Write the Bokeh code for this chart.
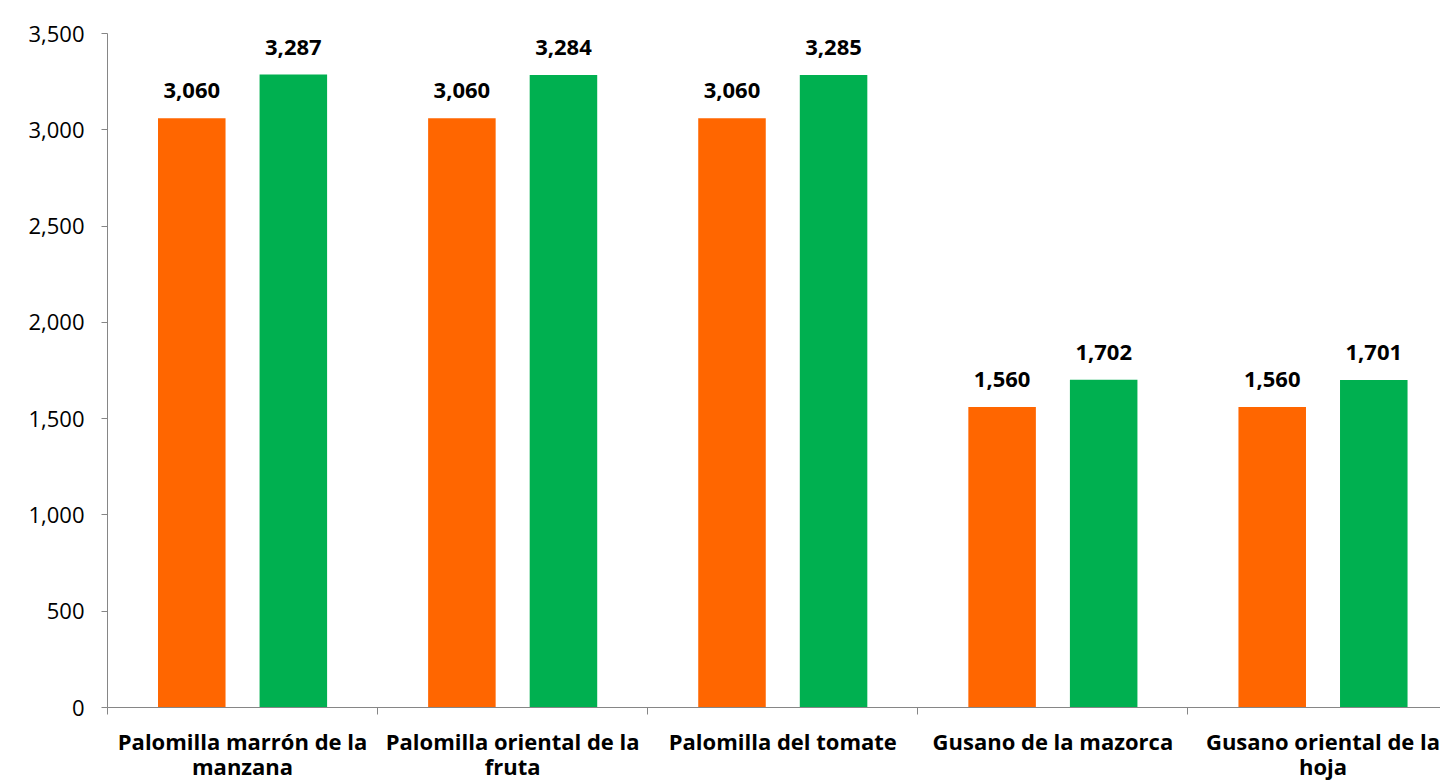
from bokeh.plotting import figure
from bokeh.models import Range1d, FixedTicker, NumeralTickFormatter, ColumnDataSource, LabelSet
from bokeh.core.properties import value
from bokeh.embed import file_html
from bokeh.resources import INLINE

categories = ["Palomilla marrón de la\nmanzana", "Palomilla oriental de la\nfruta",
              "Palomilla del tomate", "Gusano de la mazorca", "Gusano oriental de la\nhoja"]
serie_a = [3060, 3060, 3060, 1560, 1560]
serie_b = [3287, 3284, 3285, 1702, 1701]
y_ticks = [0, 500, 1000, 1500, 2000, 2500, 3000, 3500]

ORANGE = "#FF6600"
GREEN = "#00B050"
FONT = "Open Sans"
AXIS = "#868686"

n = len(categories)
centers = [i + 0.5 for i in range(n)]

p = figure(width=1440, height=783, output_backend="svg", toolbar_location=None,
           x_range=Range1d(0, 4.935), y_range=Range1d(0, 3500),
           min_border_left=107, min_border_right=0, min_border_top=33, min_border_bottom=75)
p.outline_line_color = None
p.xgrid.visible = False
p.ygrid.visible = False
p.background_fill_color = "white"

src_a = ColumnDataSource(dict(x=[c - 0.188 for c in centers], top=serie_a,
                              lab=[f"{v:,}" for v in serie_a]))
src_b = ColumnDataSource(dict(x=[c + 0.188 for c in centers], top=serie_b,
                              lab=[f"{v:,}" for v in serie_b]))
p.vbar(x="x", top="top", width=0.25, source=src_a, fill_color=ORANGE, line_color=None)
p.vbar(x="x", top="top", width=0.25, source=src_b, fill_color=GREEN, line_color=None)

for src in (src_a, src_b):
    p.add_layout(LabelSet(x="x", y="top", text="lab", source=src, text_align="center",
                          text_baseline="alphabetic", y_offset=20, text_font=value(FONT),
                          text_font_size="22px", text_font_style="bold", text_color="black"))

# y axis
p.yaxis.ticker = FixedTicker(ticks=y_ticks)
p.yaxis.formatter = NumeralTickFormatter(format="0,0")
p.yaxis.major_tick_out = 6
p.yaxis.major_tick_in = 0
p.yaxis.minor_tick_line_color = None
p.yaxis.axis_line_color = AXIS
p.yaxis.major_tick_line_color = AXIS
p.yaxis.major_label_text_font = FONT
p.yaxis.major_label_text_font_size = "22px"
p.yaxis.major_label_text_color = "black"
p.yaxis.major_label_standoff = 17

# x axis
p.xaxis.ticker = FixedTicker(ticks=centers, minor_ticks=list(range(n + 1)))
p.xaxis.major_label_overrides = {c: lab for c, lab in zip(centers, categories)}
p.xaxis.major_tick_line_color = None
p.xaxis.major_tick_out = 0
p.xaxis.major_tick_in = 0
p.xaxis.minor_tick_out = 7
p.xaxis.minor_tick_in = 0
p.xaxis.minor_tick_line_color = AXIS
p.xaxis.axis_line_color = AXIS
p.xaxis.major_label_text_font = FONT
p.xaxis.major_label_text_font_size = "22px"
p.xaxis.major_label_text_font_style = "bold"
p.xaxis.major_label_text_color = "black"
p.xaxis.major_label_text_line_height = 0.84
p.xaxis.major_label_standoff = 11

open("out.html", "w").write(file_html(p, INLINE))
